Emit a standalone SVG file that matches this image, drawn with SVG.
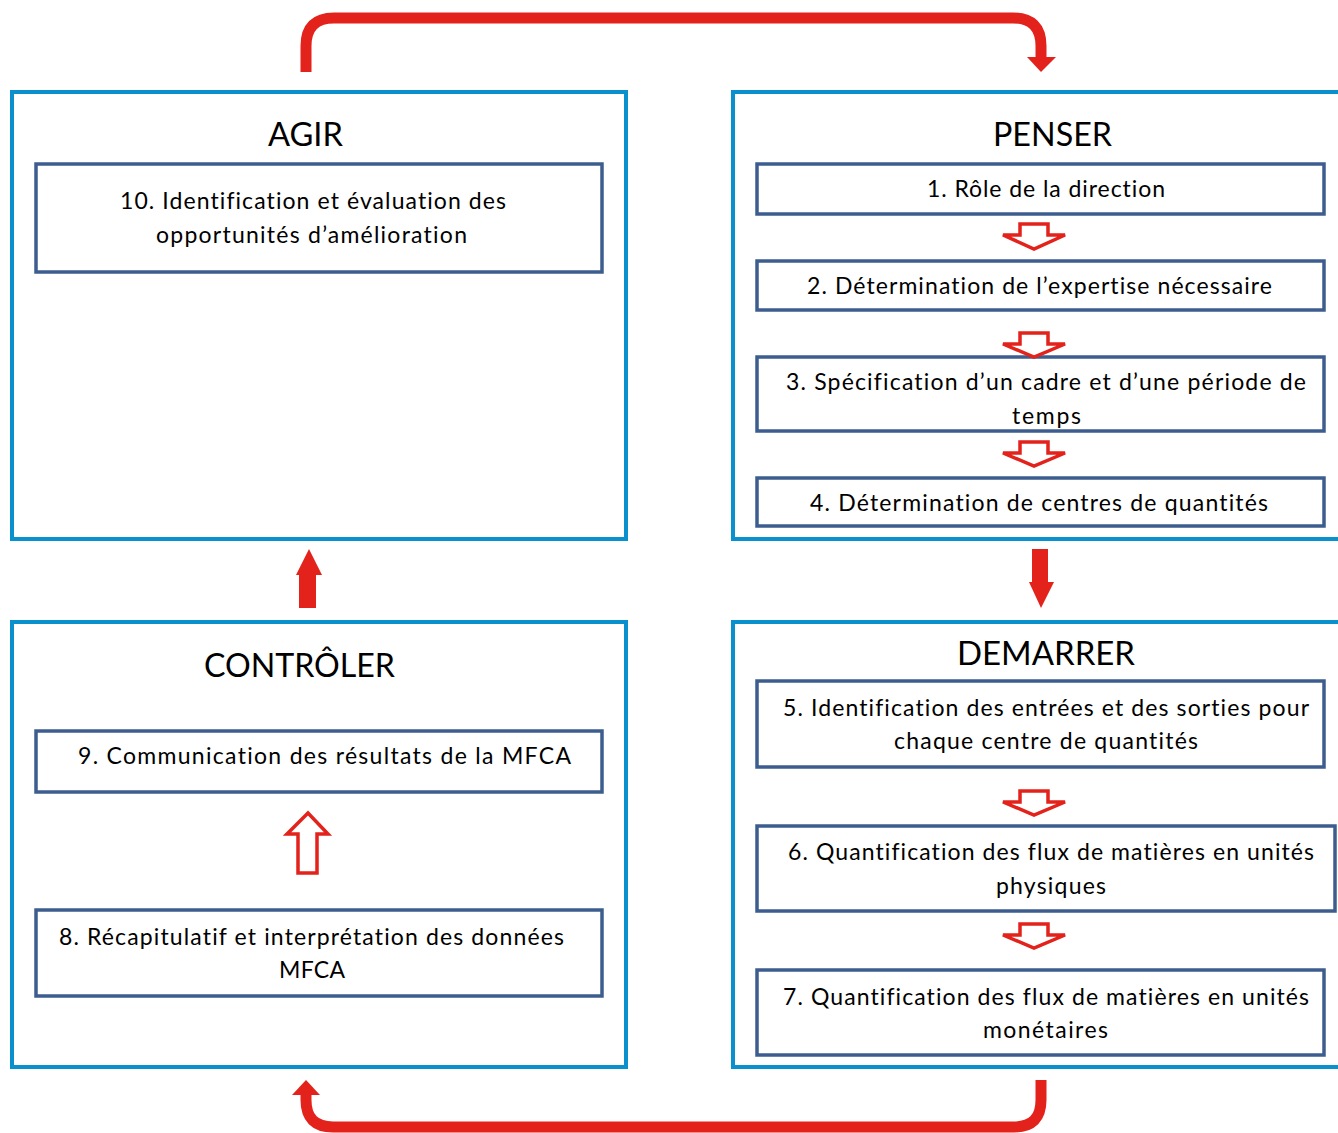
<svg xmlns="http://www.w3.org/2000/svg" width="1338" height="1133" viewBox="0 0 1338 1133">
<style>
.outer{fill:#fff;stroke:#0a90cc;stroke-width:4}
.inner{fill:#fff;stroke:#3d5d8e;stroke-width:3.5}
.title{font-family:Lato,"Liberation Sans",sans-serif;font-size:33px;fill:#000;font-variant-ligatures:none}
.t{font-family:Lato,"Liberation Sans",sans-serif;font-size:23px;fill:#000;font-variant-ligatures:none}
.hollow{fill:#fff;stroke:#e3221c;stroke-width:3.5;stroke-linejoin:miter}
.red{fill:#e3221c}
.rline{fill:none;stroke:#e3221c;stroke-width:11}
</style>
<rect width="1338" height="1133" fill="#fff"/>

<g id="agir">
<rect class="outer" x="12" y="92" width="614" height="447"/>
<text class="title" x="268" y="146" textLength="75" lengthAdjust="spacingAndGlyphs">AGIR</text>
<g id="step10">
<rect class="inner" x="36" y="164" width="566" height="108"/>
<text class="t" x="120" y="209" textLength="386" lengthAdjust="spacing">10. Identification et évaluation des</text>
<text class="t" x="156" y="243" textLength="311" lengthAdjust="spacing">opportunités d’amélioration</text>
</g>
</g>

<g id="penser">
<rect class="outer" x="733" y="92" width="620" height="447"/>
<text class="title" x="993" y="146" textLength="119" lengthAdjust="spacingAndGlyphs">PENSER</text>
<g id="step1">
<rect class="inner" x="757" y="164" width="567" height="50"/>
<text class="t" x="927" y="197" textLength="238" lengthAdjust="spacing">1. Rôle de la direction</text>
</g>
<g id="step2">
<rect class="inner" x="757" y="261" width="567" height="49"/>
<text class="t" x="807" y="294" textLength="465" lengthAdjust="spacing">2. Détermination de l’expertise nécessaire</text>
</g>
<g id="step3">
<rect class="inner" x="757" y="357" width="567" height="74"/>
<text class="t" x="786" y="390" textLength="520" lengthAdjust="spacing">3. Spécification d’un cadre et d’une période de</text>
<text class="t" x="1012" y="424" textLength="69" lengthAdjust="spacing">temps</text>
</g>
<g id="step4">
<rect class="inner" x="757" y="478" width="567" height="48"/>
<text class="t" x="810" y="511" textLength="458" lengthAdjust="spacing">4. Détermination de centres de quantités</text>
</g>
</g>

<g id="controler">
<rect class="outer" x="12" y="622" width="614" height="445"/>
<text class="title" x="204" y="677" textLength="191" lengthAdjust="spacingAndGlyphs">CONTRÔLER</text>
<g id="step9">
<rect class="inner" x="36" y="731" width="566" height="61"/>
<text class="t" x="78" y="764" textLength="493" lengthAdjust="spacing">9. Communication des résultats  de la MFCA</text>
</g>
<g id="step8">
<rect class="inner" x="36" y="910" width="566" height="86"/>
<text class="t" x="59" y="945" textLength="505" lengthAdjust="spacing">8. Récapitulatif et interprétation des données</text>
<text class="t" x="279" y="978" textLength="66" lengthAdjust="spacing">MFCA</text>
</g>
</g>

<g id="demarrer">
<rect class="outer" x="733" y="622" width="620" height="445"/>
<text class="title" x="957" y="665" textLength="178" lengthAdjust="spacingAndGlyphs">DEMARRER</text>
<g id="step5">
<rect class="inner" x="757" y="681" width="567" height="86"/>
<text class="t" x="783" y="716" textLength="526" lengthAdjust="spacing">5. Identification des entrées et des sorties pour</text>
<text class="t" x="894" y="749" textLength="304" lengthAdjust="spacing">chaque centre de quantités</text>
</g>
<g id="step6">
<rect class="inner" x="757" y="826" width="578" height="85"/>
<text class="t" x="788" y="860" textLength="526" lengthAdjust="spacing">6. Quantification des flux de matières en unités</text>
<text class="t" x="996" y="894" textLength="110" lengthAdjust="spacing">physiques</text>
</g>
<g id="step7">
<rect class="inner" x="757" y="970" width="567" height="85"/>
<text class="t" x="783" y="1005" textLength="526" lengthAdjust="spacing">7. Quantification des flux de matières en unités</text>
<text class="t" x="983" y="1038" textLength="125" lengthAdjust="spacing">monétaires</text>
</g>
</g>

<g id="connectors">
<path class="rline" d="M306,72 V46 Q306,18 334,18 H1013 Q1041,18 1041,46 V58"/>
<polygon class="red" points="1027,57 1056,57 1041,72"/>
<path class="rline" d="M1041,1080 V1100 Q1041,1127 1014,1127 H333 Q306,1127 306,1100 V1094"/>
<polygon class="red" points="292,1095 320,1095 306,1080"/>
<polygon class="red" points="299,608 299,575 296,575 309,549 322,575 316,575 316,608"/>
<polygon class="red" points="1032,549 1048,549 1048,582 1054,582 1041,608 1029,582 1032,582"/>
<polygon class="hollow" points="1020,224 1048,224 1048,235 1065,235 1034,249 1003,235 1020,235"/>
<polygon class="hollow" points="1020,333 1048,333 1048,344 1065,344 1034,357 1003,344 1020,344"/>
<polygon class="hollow" points="1020,442 1048,442 1048,453 1065,453 1034,466 1003,453 1020,453"/>
<polygon class="hollow" points="1020,791 1048,791 1048,802 1065,802 1034,815 1003,802 1020,802"/>
<polygon class="hollow" points="1020,924 1048,924 1048,935 1065,935 1034,948 1003,935 1020,935"/>
<polygon class="hollow" points="298,873 317,873 317,834 328,834 308,813 287,834 298,834"/>
</g>
</svg>
